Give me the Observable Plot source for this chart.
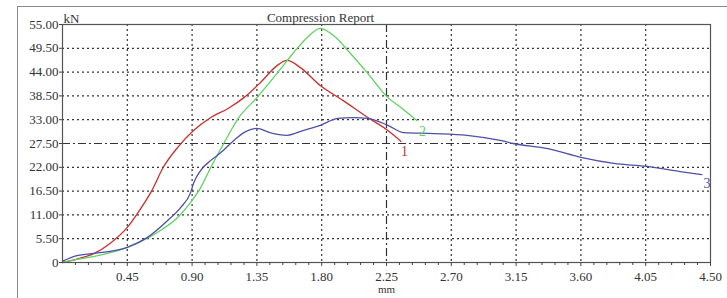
<!DOCTYPE html>
<html><head><meta charset="utf-8">
<script src="https://cdn.jsdelivr.net/npm/d3@7"></script>
<script src="https://cdn.jsdelivr.net/npm/@observablehq/plot@0.6"></script>
<style>
html,body{margin:0;padding:0;background:#fff;overflow:hidden;}
#wrap{position:relative;width:727px;height:298px;}
#border{position:absolute;left:17px;top:6px;width:730px;height:310px;border-left:1.5px solid #8a8a8a;border-top:1.5px solid #8a8a8a;box-sizing:border-box;}
#chart{position:absolute;left:0;top:0;}
</style></head>
<body><div id="wrap"><div id="border"></div><div id="chart"></div></div>
<script>
const title = "Compression Report";
const yUnit = "kN";
const xUnit = "mm";
const xTicks = [0.45,0.90,1.35,1.80,2.25,2.70,3.15,3.60,4.05,4.50];
const yTicks = [0,5.5,11,16.5,22,27.5,33,38.5,44,49.5,55];

const x1 = [0,0.10,0.22,0.33,0.45,0.52,0.62,0.70,0.80,0.91,1.03,1.15,1.26,1.375,1.49,1.56,1.65,1.79,1.95,2.12,2.26,2.35];
const y1 = [0,0.8,2.1,4.4,8.1,11.3,16.6,22,26.6,30.5,33.5,35.6,38.1,41.6,45.5,46.7,45.1,40.9,37.4,33.5,30.5,28];

const x2 = [0,0.10,0.22,0.45,0.56,0.68,0.80,0.89,0.96,1.03,1.10,1.17,1.21,1.35,1.49,1.60,1.70,1.79,1.88,2.0,2.12,2.26,2.35,2.46];
const y2 = [0,0.7,1.4,3.5,5.1,7.4,10.4,13.9,17.3,22,26.3,30.5,32.8,38.1,43.7,48.3,52,54.1,52.5,48.3,43.7,38.1,35.8,32.8];

const x3 = [0,0.10,0.22,0.45,0.59,0.73,0.82,0.89,0.91,0.96,1.03,1.10,1.19,1.26,1.35,1.44,1.56,1.67,1.79,1.91,2.02,2.12,2.26,2.37,2.58,2.81,3.04,3.13,3.37,3.60,3.83,4.06,4.29,4.44];
const y3 = [0.3,1.6,2.1,3.5,5.8,9.7,12.7,16.2,18.3,21.3,23.6,25.4,28.2,30,31,30,29.4,30.5,31.7,33.3,33.5,33.3,31.7,30,29.8,29.4,28.2,27.5,26.3,24.3,22.9,22.2,21,20.3];

const seriesNames = ["1","2","3"];
const seriesColors = ["#c8302c","#5fd35f","#4f4fa8"];
const labelX = [2.375,2.50,4.475];
const labelY = [25.6,30.2,18.2];

const xs = [x1,x2,x3], ys = [y1,y2,y3];
const rows = [];
xs.forEach((xa,i)=>xa.forEach((x,j)=>rows.push({s:seriesNames[i],x,y:ys[i][j]})));
const labels = seriesNames.map((s,i)=>({s,x:labelX[i],y:labelY[i]}));

const minorX = d3.range(1,51).map(i=>+(i*0.09).toFixed(2)).filter(v=>!xTicks.includes(v));
const gridX = xTicks.filter(v=>v<4.5);
const gridY = yTicks.filter(v=>v>0 && v<55);
const dot = "2,3", dashdot = "8,3,2,3";

const chart = Plot.plot({
  width:727, height:298,
  marginLeft:62, marginRight:17, marginTop:24, marginBottom:36,
  style:{fontFamily:"'Liberation Serif', serif", fontSize:"13px", color:"#333", background:"transparent"},
  x:{domain:[0,4.5], label:null},
  y:{domain:[0,55], label:null},
  color:{domain:seriesNames, range:seriesColors},
  marks:[
    Plot.ruleX(gridX.filter(v=>v!==2.25),{stroke:"#333",strokeDasharray:dot,strokeWidth:1.2}),
    Plot.ruleX([2.25],{stroke:"#333",strokeDasharray:dashdot,strokeWidth:1.2}),
    Plot.ruleY(gridY.filter(v=>v!==27.5),{stroke:"#333",strokeDasharray:dot,strokeWidth:1.2}),
    Plot.ruleY([27.5],{stroke:"#333",strokeDasharray:dashdot,strokeWidth:1.2}),
    Plot.line(rows,{x:"x",y:"y",z:"s",stroke:"s",strokeWidth:1.3,curve:"monotone-x"}),
    Plot.text(labels,{x:"x",y:"y",text:"s",fill:"s",fontSize:14}),
    Plot.frame({stroke:"#555",strokeWidth:1.2}),
    Plot.axisX(minorX,{tickSize:3,tickFormat:()=>"",stroke:"#444",label:null}),
    Plot.axisX(xTicks,{tickSize:4,tickPadding:5,tickFormat:d=>d.toFixed(2),fill:"#333",stroke:"#444",label:null}),
    Plot.axisY(yTicks,{tickSize:3,tickPadding:1,tickFormat:d=>d===0?"0":d.toFixed(2),fill:"#333",stroke:"#444",label:null}),
    Plot.text([xUnit],{frameAnchor:"bottom",dy:30,text:d=>d,fontSize:11,fill:"#333"}),
    Plot.text([yUnit],{frameAnchor:"top-left",dx:1,dy:-11,textAnchor:"start",text:d=>d,fontSize:13,fill:"#333"}),
    Plot.text([title],{frameAnchor:"top",dx:-66,dy:-12,text:d=>d,fontSize:13,fill:"#333"})
  ]
});
document.getElementById("chart").appendChild(chart);
</script></body></html>
